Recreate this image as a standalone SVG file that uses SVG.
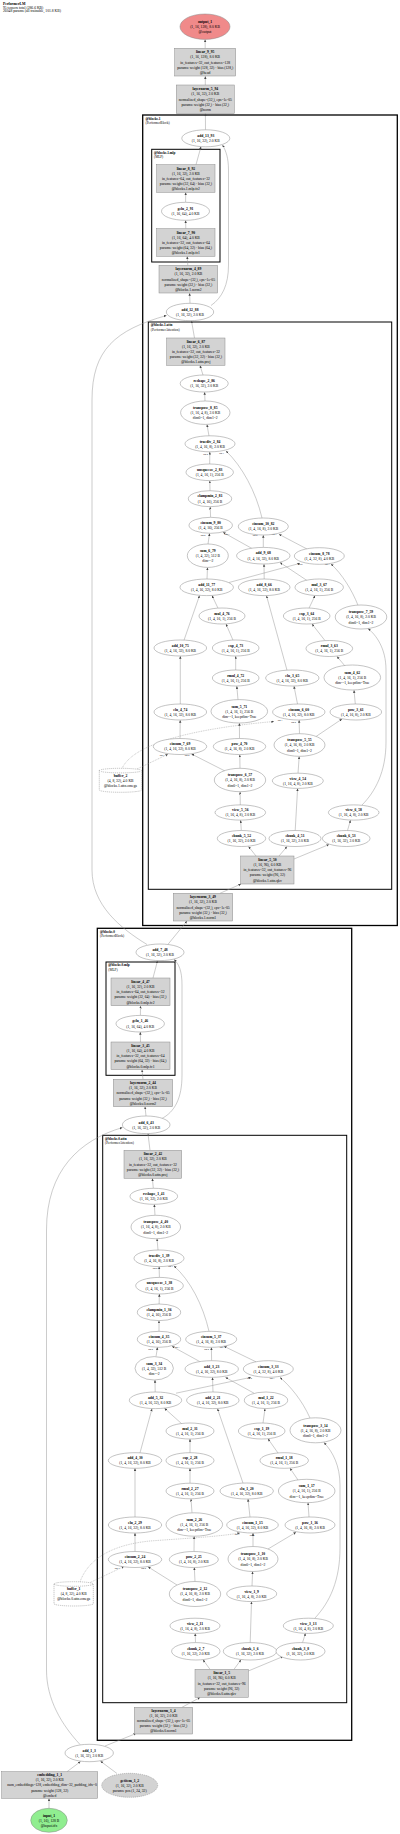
<svg xmlns="http://www.w3.org/2000/svg" width="400" height="1834" viewBox="0 0 400 1834">
<style>
text{font-family:"Liberation Serif","Times New Roman",serif;font-size:3.7px;fill:#000}
.c{text-anchor:middle}
.b{font-weight:bold}
.cl{fill:none;stroke:#000;stroke-width:1}
.clt{font-size:3.4px}
.el{fill:#fff;stroke:#888;stroke-width:0.5}
.bx{fill:#d3d3d3;stroke:#8a8a8a;stroke-width:0.5}
.buf{fill:#fff;stroke:#888;stroke-width:0.5;stroke-dasharray:1.2 0.8}
.e{fill:none;stroke:#8c8c8c;stroke-width:0.45;marker-end:url(#ah)}
.d{stroke-dasharray:1 0.8}
.lb{font-size:2.3px;text-anchor:middle}
</style>
<defs>
<marker id="ah" markerUnits="userSpaceOnUse" markerWidth="3" markerHeight="3" refX="2.6" refY="1.2" orient="auto"><path d="M0,0 L2.6,1.2 L0,2.4 Z" fill="#444"/></marker>
</defs>
<rect width="400" height="1834" fill="#fff"/>
<g id="title">
<text x="3" y="4.6" class="b">PerformerLM</text>
<text x="3" y="8.6">95 tensors total (286.6 KB)</text>
<text x="3" y="12.4">26048 params (all trainable, 101.8 KB)</text>
</g>
<g id="clusters">
<rect class="cl" x="142.7" y="115" width="254.6" height="810.5" style="stroke-width:1.3"/>
<text x="145.5" y="119.5" class="b clt">@blocks.1</text><text x="145.5" y="123.8" class="clt">(PerformerBlock)</text>
<rect class="cl" x="151.7" y="149.3" width="68.3" height="112.7"/>
<text x="154" y="153.5" class="b clt">@blocks.1.mlp</text><text x="154" y="157.8" class="clt">(MLP)</text>
<rect class="cl" x="148.3" y="322" width="243.4" height="567.3"/>
<text x="150.8" y="326.2" class="b clt">@blocks.1.attn</text><text x="150.8" y="330.5" class="clt">(PerformerAttention)</text>
<rect class="cl" x="97.3" y="928.3" width="254.4" height="812" style="stroke-width:1.3"/>
<text x="100" y="932.5" class="b clt">@blocks.0</text><text x="100" y="936.8" class="clt">(PerformerBlock)</text>
<rect class="cl" x="106" y="962" width="69" height="113.3"/>
<text x="108.3" y="966.2" class="b clt">@blocks.0.mlp</text><text x="108.3" y="970.5" class="clt">(MLP)</text>
<rect class="cl" x="102.7" y="1135.3" width="244" height="567.4"/>
<text x="105" y="1139.5" class="b clt">@blocks.0.attn</text><text x="105" y="1143.8" class="clt">(PerformerAttention)</text>
</g>
<g id="edges">
<path class="e" d="M205.3,85 L205.3,76.3"/>
<path class="e" d="M205.2,48.3 L205.1,39.6"/>
<path class="e" d="M205.5,129.8 L205.4,113.6"/>
<path class="e" d="M196,164.7 L201,146.6"/>
<path class="e" d="M185.6,202.3 L185.7,192.5"/>
<path class="e" d="M185.8,228.7 L185.6,220.4"/>
<path class="e" d="M187.8,265.3 L187.2,256.5"/>
<path class="e" d="M190,303.3 L189.6,293.2"/>
<path class="e" d="M211,305.5 C222,298 228.5,285 228.5,265 L228.5,170 C228.5,158 226,151 222.5,145"/>
<path class="e" d="M194.5,338 L191.5,320.8"/>
<path class="e" d="M203,375 L200,365.5"/>
<path class="e" d="M205,401 L204.6,392.2"/>
<path class="e" d="M209,436 L207,424.6"/>
<path class="e" d="M209.7,464 L209.8,452"/>
<path class="e" d="M262,518 C256,492 242,466 226,451"/>
<path class="e" d="M210,490.7 L209.8,480.8"/>
<path class="e" d="M210.6,517.3 L210.2,506.9"/>
<path class="e" d="M208,544 L209.6,533.4"/>
<path class="e" d="M252,548.5 L223,532.3"/>
<path class="e" d="M263.3,547.4 L263.3,535.2"/>
<path class="e" d="M307,549 L279,534.3"/>
<path class="e" d="M207,579 L207.5,567.6"/>
<path class="e" d="M229,582.5 L300,563.3"/>
<path class="e" d="M358,605.3 C352,590 342,574 331,564"/>
<path class="e" d="M264.2,579 L264,564.2"/>
<path class="e" d="M307,580.5 L280,562.5"/>
<path class="e" d="M218,608.2 L212,595.6"/>
<path class="e" d="M184,640.2 L199.5,595.6"/>
<path class="e" d="M233,640.2 L226,624"/>
<path class="e" d="M309,608.2 L315,595.6"/>
<path class="e" d="M287,670.2 L266.5,595.7"/>
<path class="e" d="M325,640.6 L312,624"/>
<path class="e" d="M345,666 L337,656.5"/>
<path class="e" d="M355.3,704 L354,690.2"/>
<path class="e" d="M297.5,704 L294,686.2"/>
<path class="e" d="M299.5,733.7 L299.1,720.2"/>
<path class="e" d="M316,736.5 L342,719"/>
<path class="e d" d="M122,768.5 C134,742 200,728 274,721.5"/>
<path class="e" d="M235.7,670 L235.7,656.2"/>
<path class="e" d="M238,699.8 L236.8,686.2"/>
<path class="e" d="M239.5,738.5 L239.4,723.2"/>
<path class="e" d="M180.3,704 L180.3,656.2"/>
<path class="e" d="M180,738.5 L180.2,720.2"/>
<path class="e" d="M240,768.3 L239.8,754.7"/>
<path class="e" d="M225,771 L191.5,754"/>
<path class="e d" d="M137,769 L168,754.2"/>
<path class="e" d="M240.3,805 L240.1,791.9"/>
<path class="e" d="M298,773.3 L299.2,756.5"/>
<path class="e" d="M295.2,830.5 L297.6,788.5"/>
<path class="e" d="M362,805 C375,792 386,772 386,742 L386,670 C386,648 376,635 368,628.5"/>
<path class="e" d="M241.3,830.5 L240.6,820.2"/>
<path class="e" d="M347.5,830.5 L350.5,820.2"/>
<path class="e" d="M256,856 L248.5,846.5"/>
<path class="e" d="M279,856 L287,846.6"/>
<path class="e" d="M294,859 L329,844.5"/>
<path class="e" d="M220,893.3 L241,884"/>
<path class="e" d="M168,944.3 L187,921"/>
<path class="e" d="M147,944.5 C120,928 92,905 92,870 L92,400 C92,350 115,330 166.5,315.5"/>
<path class="e" d="M153,978 L157.5,960.8"/>
<path class="e" d="M140.4,1015.4 L140.5,1005.9"/>
<path class="e" d="M140.5,1042 L140.3,1032.1"/>
<path class="e" d="M143,1079.3 L142,1069.8"/>
<path class="e" d="M146,1116 L145,1106.8"/>
<path class="e" d="M161,1119 C175,1112 182,1098 182,1075 L182,985 C182,971 179,964 174,959.5"/>
<path class="e" d="M150,1150.3 L148,1133.8"/>
<path class="e" d="M153.3,1188.3 L152.4,1178.4"/>
<path class="e" d="M155,1215.3 L154.3,1204.4"/>
<path class="e" d="M158,1250 L157,1238.8"/>
<path class="e" d="M159.4,1277.4 L159.1,1266.7"/>
<path class="e" d="M209,1331.3 C203,1305 190,1280 174,1266"/>
<path class="e" d="M159.1,1304 L159.4,1294.1"/>
<path class="e" d="M159,1331.3 L159,1320.7"/>
<path class="e" d="M156,1356.6 L157.5,1347.3"/>
<path class="e" d="M200,1361.7 L172,1346.3"/>
<path class="e" d="M211.6,1360.7 L211.4,1347.4"/>
<path class="e" d="M256,1361.8 L224,1346.3"/>
<path class="e" d="M155.2,1392 L155,1380.1"/>
<path class="e" d="M176,1393.2 L251,1377.3"/>
<path class="e" d="M310,1418 C302,1400 290,1386 280,1377.4"/>
<path class="e" d="M213,1392 L212.5,1377.4"/>
<path class="e" d="M254,1393.2 L225.5,1377.4"/>
<path class="e" d="M140,1452.8 L152,1408.7"/>
<path class="e" d="M182,1424 L164.5,1408.3"/>
<path class="e" d="M263,1423 L265,1408.7"/>
<path class="e" d="M190,1452.8 L190,1439.1"/>
<path class="e" d="M278,1453 L268,1438.8"/>
<path class="e" d="M190,1483.2 L190,1468.3"/>
<path class="e" d="M243,1483.1 L217.5,1408.7"/>
<path class="e" d="M298,1480 L290,1468.2"/>
<path class="e" d="M135,1517 L135,1468.3"/>
<path class="e" d="M192,1512.8 L191,1498.9"/>
<path class="e" d="M250,1517 L248,1499.1"/>
<path class="e" d="M309,1517 L308,1502.8"/>
<path class="e" d="M135,1551.5 L135,1533.1"/>
<path class="e" d="M194,1551.5 L194.2,1536.3"/>
<path class="e" d="M253,1546.5 L253,1533.1"/>
<path class="e" d="M268,1549 L296,1532.3"/>
<path class="e d" d="M80,1581.8 C88,1560 110,1545 150,1541 C190,1538 215,1537 240,1533"/>
<path class="e d" d="M88,1583.5 L124,1566.5"/>
<path class="e" d="M177,1585 L148,1566.8"/>
<path class="e" d="M195,1581.5 L194.3,1567.6"/>
<path class="e" d="M252,1586 L252.6,1571.6"/>
<path class="e" d="M315,1618 C330,1602 340,1580 340,1548 L340,1485 C340,1466 333,1452 324,1442.6"/>
<path class="e" d="M195.5,1642.6 L195.2,1633.4"/>
<path class="e" d="M250.2,1642.6 L251.5,1601.7"/>
<path class="e" d="M302.5,1642.6 L305.5,1633.3"/>
<path class="e" d="M210,1669.3 L203,1659.8"/>
<path class="e" d="M234,1669.3 L241,1659.8"/>
<path class="e" d="M248.3,1671 L283,1656.5"/>
<path class="e" d="M182,1707.3 L200,1697.5"/>
<path class="e" d="M105,1746 L136,1733.5"/>
<path class="e" d="M80,1744.5 C62,1725 46.5,1700 46.5,1670 L46.5,1230 C46.5,1170 80,1140 122.5,1127.5"/>
<path class="e" d="M67,1771.7 L80.5,1761.6"/>
<path class="e" d="M117,1773.5 L100.5,1761.2"/>
<path class="e" d="M49,1808.3 L49,1798.5"/>
</g>
<g id="edge-labels">
<text class="lb" x="205.5" y="454.5">arg 0</text><text class="lb" x="221.5" y="453.5">arg 1</text>
<text class="lb" x="203" y="535.8">arg 0</text><text class="lb" x="227" y="535">arg 1</text>
<text class="lb" x="255" y="536.2">arg 0</text><text class="lb" x="274" y="535">arg 1</text>
<text class="lb" x="300" y="565.2">arg 0</text><text class="lb" x="327" y="565.2">arg 1</text>
<text class="lb" x="280" y="721.2">arg 1</text><text class="lb" x="293.5" y="722.8">arg 0</text>
<text class="lb" x="162" y="756.2">arg 1</text><text class="lb" x="187" y="756.2">arg 0</text>
<text class="lb" x="155" y="1268.5">arg 0</text><text class="lb" x="170.5" y="1266.5">arg 1</text>
<text class="lb" x="150.5" y="1349.8">arg 0</text><text class="lb" x="177" y="1347.5">arg 1</text>
<text class="lb" x="206.5" y="1349.8">arg 0</text><text class="lb" x="222" y="1348">arg 1</text>
<text class="lb" x="249.5" y="1378.8">arg 0</text><text class="lb" x="272" y="1378.8">arg 1</text>
<text class="lb" x="237" y="1535">arg 1</text><text class="lb" x="252" y="1535.8">arg 0</text>
<text class="lb" x="117" y="1569">arg 1</text><text class="lb" x="143.5" y="1569">arg 0</text>
</g>
<g id="output_1"><ellipse cx="205" cy="26.7" rx="25" ry="12.7" fill="#f08a8a" stroke="#888" stroke-width="0.5"/><text class="c b" x="205" y="22.9">output_1</text><text class="c" x="205" y="28">(1, 16, 128), 8.0 KB</text><text class="c" x="205" y="33.2">@output</text></g>
<g id="linear_9_95"><rect class="bx" x="174.7" y="48.3" width="61" height="27.7"/><text class="c b" x="205.2" y="53.2">linear_9_95</text><text class="c" x="205.2" y="58.3">(1, 16, 128), 8.0 KB</text><text class="c" x="205.2" y="63.5">in_features=32, out_features=128</text><text class="c" x="205.2" y="68.6">params: weight (128, 32) · bias (128,)</text><text class="c" x="205.2" y="73.8">@head</text></g>
<g id="layernorm_5_94"><rect class="bx" x="176.3" y="85" width="58" height="28.3"/><text class="c b" x="205.3" y="90.2">layernorm_5_94</text><text class="c" x="205.3" y="95.3">(1, 16, 32), 2.0 KB</text><text class="c" x="205.3" y="100.5">normalized_shape=(32,), eps=1e-05</text><text class="c" x="205.3" y="105.6">params: weight (32,) · bias (32,)</text><text class="c" x="205.3" y="110.8">@norm</text></g>
<g id="add_13_93"><ellipse class="el" cx="205.8" cy="138.3" rx="24" ry="8.5"/><text class="c b" x="205.8" y="137">add_13_93</text><text class="c" x="205.8" y="142.2">(1, 16, 32), 2.0 KB</text></g>
<g id="linear_8_92"><rect class="bx" x="156.7" y="164.7" width="58.3" height="27.6"/><text class="c b" x="185.9" y="169.5">linear_8_92</text><text class="c" x="185.9" y="174.6">(1, 16, 32), 2.0 KB</text><text class="c" x="185.9" y="179.8">in_features=64, out_features=32</text><text class="c" x="185.9" y="184.9">params: weight (32, 64) · bias (32,)</text><text class="c" x="185.9" y="190.1">@blocks.1.mlp.fc2</text></g>
<g id="gelu_2_91"><ellipse class="el" cx="185.5" cy="211.3" rx="24" ry="9"/><text class="c b" x="185.5" y="210">gelu_2_91</text><text class="c" x="185.5" y="215.2">(1, 16, 64), 4.0 KB</text></g>
<g id="linear_7_90"><rect class="bx" x="156.7" y="228.7" width="58.3" height="27.6"/><text class="c b" x="185.9" y="233.5">linear_7_90</text><text class="c" x="185.9" y="238.6">(1, 16, 64), 4.0 KB</text><text class="c" x="185.9" y="243.8">in_features=32, out_features=64</text><text class="c" x="185.9" y="248.9">params: weight (64, 32) · bias (64,)</text><text class="c" x="185.9" y="254.1">@blocks.1.mlp.fc1</text></g>
<g id="layernorm_4_89"><rect class="bx" x="159" y="265.3" width="58.7" height="27.7"/><text class="c b" x="188.4" y="270.2">layernorm_4_89</text><text class="c" x="188.4" y="275.3">(1, 16, 32), 2.0 KB</text><text class="c" x="188.4" y="280.5">normalized_shape=(32,), eps=1e-05</text><text class="c" x="188.4" y="285.6">params: weight (32,) · bias (32,)</text><text class="c" x="188.4" y="290.8">@blocks.1.norm2</text></g>
<g id="add_12_88"><ellipse class="el" cx="190" cy="312" rx="23.7" ry="8.7"/><text class="c b" x="190" y="310.7">add_12_88</text><text class="c" x="190" y="315.9">(1, 16, 32), 2.0 KB</text></g>
<g id="linear_6_87"><rect class="bx" x="166.7" y="338" width="58.3" height="27.3"/><text class="c b" x="195.9" y="342.7">linear_6_87</text><text class="c" x="195.9" y="347.8">(1, 16, 32), 2.0 KB</text><text class="c" x="195.9" y="353">in_features=32, out_features=32</text><text class="c" x="195.9" y="358.1">params: weight (32, 32) · bias (32,)</text><text class="c" x="195.9" y="363.3">@blocks.1.attn.proj</text></g>
<g id="reshape_2_86"><ellipse class="el" cx="204.2" cy="383.5" rx="24" ry="8.5"/><text class="c b" x="204.2" y="382.2">reshape_2_86</text><text class="c" x="204.2" y="387.4">(1, 16, 32), 2.0 KB</text></g>
<g id="transpose_8_85"><ellipse class="el" cx="205.3" cy="412.7" rx="24.7" ry="11.7"/><text class="c b" x="205.3" y="408.9">transpose_8_85</text><text class="c" x="205.3" y="414">(1, 16, 4, 8), 2.0 KB</text><text class="c" x="205.3" y="419.2">dim0=1, dim1=2</text></g>
<g id="truediv_2_84"><ellipse class="el" cx="210" cy="443.8" rx="25" ry="8"/><text class="c b" x="210" y="442.5">truediv_2_84</text><text class="c" x="210" y="447.7">(1, 4, 16, 8), 2.0 KB</text></g>
<g id="unsqueeze_2_83"><ellipse class="el" cx="209.7" cy="472.3" rx="23.7" ry="8.3"/><text class="c b" x="209.7" y="471">unsqueeze_2_83</text><text class="c" x="209.7" y="476.2">(1, 4, 16, 1), 256 B</text></g>
<g id="clampmin_2_81"><ellipse class="el" cx="210" cy="498.7" rx="21.7" ry="8"/><text class="c b" x="210" y="497.4">clampmin_2_81</text><text class="c" x="210" y="502.6">(1, 4, 16), 256 B</text></g>
<g id="einsum_9_80"><ellipse class="el" cx="210.7" cy="525.3" rx="21.7" ry="8"/><text class="c b" x="210.7" y="524">einsum_9_80</text><text class="c" x="210.7" y="529.2">(1, 4, 16), 256 B</text></g>
<g id="einsum_10_82"><ellipse class="el" cx="263.3" cy="526.5" rx="25" ry="8.5"/><text class="c b" x="263.3" y="525.2">einsum_10_82</text><text class="c" x="263.3" y="530.4">(1, 4, 16, 8), 2.0 KB</text></g>
<g id="sum_6_79"><ellipse class="el" cx="207.8" cy="555.7" rx="20.5" ry="11.7"/><text class="c b" x="207.8" y="551.9">sum_6_79</text><text class="c" x="207.8" y="557">(1, 4, 32), 512 B</text><text class="c" x="207.8" y="562.2">dim=-2</text></g>
<g id="add_9_68"><ellipse class="el" cx="263.3" cy="555.7" rx="26.7" ry="8.3"/><text class="c b" x="263.3" y="554.4">add_9_68</text><text class="c" x="263.3" y="559.6">(1, 4, 16, 32), 8.0 KB</text></g>
<g id="einsum_8_78"><ellipse class="el" cx="319.3" cy="556" rx="25" ry="8.3"/><text class="c b" x="319.3" y="554.7">einsum_8_78</text><text class="c" x="319.3" y="559.9">(1, 4, 32, 8), 4.0 KB</text></g>
<g id="add_11_77"><ellipse class="el" cx="206.7" cy="587.3" rx="26.7" ry="8.3"/><text class="c b" x="206.7" y="586">add_11_77</text><text class="c" x="206.7" y="591.2">(1, 4, 16, 32), 8.0 KB</text></g>
<g id="add_8_66"><ellipse class="el" cx="264.2" cy="587.3" rx="25.8" ry="8.3"/><text class="c b" x="264.2" y="586">add_8_66</text><text class="c" x="264.2" y="591.2">(1, 4, 16, 32), 8.0 KB</text></g>
<g id="mul_3_67"><ellipse class="el" cx="319.2" cy="587.3" rx="24.2" ry="8.3"/><text class="c b" x="319.2" y="586">mul_3_67</text><text class="c" x="319.2" y="591.2">(1, 4, 16, 1), 256 B</text></g>
<g id="mul_4_76"><ellipse class="el" cx="222" cy="616" rx="23" ry="8"/><text class="c b" x="222" y="614.7">mul_4_76</text><text class="c" x="222" y="619.9">(1, 4, 16, 1), 256 B</text></g>
<g id="exp_3_64"><ellipse class="el" cx="306.7" cy="616" rx="23.3" ry="8"/><text class="c b" x="306.7" y="614.7">exp_3_64</text><text class="c" x="306.7" y="619.9">(1, 4, 16, 1), 256 B</text></g>
<g id="transpose_7_59"><ellipse class="el" cx="361" cy="617" rx="25.8" ry="12"/><text class="c b" x="361" y="613.2">transpose_7_59</text><text class="c" x="361" y="618.3">(1, 4, 16, 8), 2.0 KB</text><text class="c" x="361" y="623.5">dim0=1, dim1=2</text></g>
<g id="add_10_75"><ellipse class="el" cx="180.3" cy="648" rx="26.3" ry="8"/><text class="c b" x="180.3" y="646.7">add_10_75</text><text class="c" x="180.3" y="651.9">(1, 4, 16, 32), 8.0 KB</text></g>
<g id="exp_4_73"><ellipse class="el" cx="235.7" cy="648" rx="23.3" ry="8"/><text class="c b" x="235.7" y="646.7">exp_4_73</text><text class="c" x="235.7" y="651.9">(1, 4, 16, 1), 256 B</text></g>
<g id="rmul_3_63"><ellipse class="el" cx="329.3" cy="648.5" rx="23.3" ry="8"/><text class="c b" x="329.3" y="647.2">rmul_3_63</text><text class="c" x="329.3" y="652.4">(1, 4, 16, 1), 256 B</text></g>
<g id="rmul_4_72"><ellipse class="el" cx="235.7" cy="678" rx="23.3" ry="8"/><text class="c b" x="235.7" y="676.7">rmul_4_72</text><text class="c" x="235.7" y="681.9">(1, 4, 16, 1), 256 B</text></g>
<g id="elu_3_65"><ellipse class="el" cx="292.3" cy="678" rx="26.7" ry="8"/><text class="c b" x="292.3" y="676.7">elu_3_65</text><text class="c" x="292.3" y="681.9">(1, 4, 16, 32), 8.0 KB</text></g>
<g id="sum_4_62"><ellipse class="el" cx="352.3" cy="677.5" rx="28.3" ry="12.5"/><text class="c b" x="352.3" y="673.7">sum_4_62</text><text class="c" x="352.3" y="678.8">(1, 4, 16, 1), 256 B</text><text class="c" x="352.3" y="684">dim=-1, keepdim=True</text></g>
<g id="elu_4_74"><ellipse class="el" cx="180.3" cy="712" rx="26.3" ry="8"/><text class="c b" x="180.3" y="710.7">elu_4_74</text><text class="c" x="180.3" y="715.9">(1, 4, 16, 32), 8.0 KB</text></g>
<g id="sum_5_71"><ellipse class="el" cx="239.3" cy="711.3" rx="28.3" ry="11.7"/><text class="c b" x="239.3" y="707.5">sum_5_71</text><text class="c" x="239.3" y="712.6">(1, 4, 16, 1), 256 B</text><text class="c" x="239.3" y="717.8">dim=-1, keepdim=True</text></g>
<g id="einsum_6_60"><ellipse class="el" cx="298.8" cy="712" rx="26.2" ry="8"/><text class="c b" x="298.8" y="710.7">einsum_6_60</text><text class="c" x="298.8" y="715.9">(1, 4, 16, 32), 8.0 KB</text></g>
<g id="pow_3_61"><ellipse class="el" cx="355.8" cy="712" rx="25.8" ry="8"/><text class="c b" x="355.8" y="710.7">pow_3_61</text><text class="c" x="355.8" y="715.9">(1, 4, 16, 8), 2.0 KB</text></g>
<g id="einsum_7_69"><ellipse class="el" cx="180" cy="746.5" rx="26.7" ry="8"/><text class="c b" x="180" y="745.2">einsum_7_69</text><text class="c" x="180" y="750.4">(1, 4, 16, 32), 8.0 KB</text></g>
<g id="pow_4_70"><ellipse class="el" cx="239.5" cy="746.5" rx="26.2" ry="8"/><text class="c b" x="239.5" y="745.2">pow_4_70</text><text class="c" x="239.5" y="750.4">(1, 4, 16, 8), 2.0 KB</text></g>
<g id="transpose_5_55"><ellipse class="el" cx="299.5" cy="745" rx="25.5" ry="11.3"/><text class="c b" x="299.5" y="741.2">transpose_5_55</text><text class="c" x="299.5" y="746.3">(1, 4, 16, 8), 2.0 KB</text><text class="c" x="299.5" y="751.5">dim0=1, dim1=2</text></g>
<g id="buffer_2"><path class="buf" d="M99.3,770.6 A21.2,2.3 0 0 1 141.7,770.6 L141.7,790 A21.2,2.3 0 0 1 99.3,790 Z M99.3,770.6 A21.2,2.3 0 0 0 141.7,770.6"/><text class="c b" x="120.5" y="776.5">buffer_2</text><text class="c" x="120.5" y="781.6">(4, 8, 32), 4.0 KB</text><text class="c" x="120.5" y="786.8">@blocks.1.attn.omega</text></g>
<g id="transpose_6_57"><ellipse class="el" cx="240" cy="780" rx="25.7" ry="11.7"/><text class="c b" x="240" y="776.2">transpose_6_57</text><text class="c" x="240" y="781.3">(1, 4, 16, 8), 2.0 KB</text><text class="c" x="240" y="786.5">dim0=1, dim1=2</text></g>
<g id="view_4_54"><ellipse class="el" cx="297.8" cy="780.8" rx="25.5" ry="7.6"/><text class="c b" x="297.8" y="779.5">view_4_54</text><text class="c" x="297.8" y="784.7">(1, 16, 4, 8), 2.0 KB</text></g>
<g id="view_5_56"><ellipse class="el" cx="240.3" cy="812.5" rx="25.3" ry="7.6"/><text class="c b" x="240.3" y="811.2">view_5_56</text><text class="c" x="240.3" y="816.4">(1, 16, 4, 8), 2.0 KB</text></g>
<g id="view_6_58"><ellipse class="el" cx="353.7" cy="812.5" rx="25.3" ry="7.6"/><text class="c b" x="353.7" y="811.2">view_6_58</text><text class="c" x="353.7" y="816.4">(1, 16, 4, 8), 2.0 KB</text></g>
<g id="chunk_5_52"><ellipse class="el" cx="241.5" cy="838.5" rx="24.2" ry="8"/><text class="c b" x="241.5" y="837.2">chunk_5_52</text><text class="c" x="241.5" y="842.4">(1, 16, 32), 2.0 KB</text></g>
<g id="chunk_4_51"><ellipse class="el" cx="295" cy="838.5" rx="26" ry="8"/><text class="c b" x="295" y="837.2">chunk_4_51</text><text class="c" x="295" y="842.4">(1, 16, 32), 2.0 KB</text></g>
<g id="chunk_6_53"><ellipse class="el" cx="346.2" cy="838.5" rx="23.8" ry="8"/><text class="c b" x="346.2" y="837.2">chunk_6_53</text><text class="c" x="346.2" y="842.4">(1, 16, 32), 2.0 KB</text></g>
<g id="linear_5_50"><rect class="bx" x="240.7" y="856" width="53.3" height="28"/><text class="c b" x="267.4" y="861">linear_5_50</text><text class="c" x="267.4" y="866.1">(1, 16, 96), 6.0 KB</text><text class="c" x="267.4" y="871.3">in_features=32, out_features=96</text><text class="c" x="267.4" y="876.4">params: weight (96, 32)</text><text class="c" x="267.4" y="881.6">@blocks.1.attn.qkv</text></g>
<g id="layernorm_3_49"><rect class="bx" x="173.3" y="893.3" width="59.4" height="27.7"/><text class="c b" x="203" y="898.2">layernorm_3_49</text><text class="c" x="203" y="903.3">(1, 16, 32), 2.0 KB</text><text class="c" x="203" y="908.5">normalized_shape=(32,), eps=1e-05</text><text class="c" x="203" y="913.6">params: weight (32,) · bias (32,)</text><text class="c" x="203" y="918.8">@blocks.1.norm1</text></g>
<g id="add_7_48"><ellipse class="el" cx="160" cy="952.3" rx="24" ry="8.3"/><text class="c b" x="160" y="951">add_7_48</text><text class="c" x="160" y="956.2">(1, 16, 32), 2.0 KB</text></g>
<g id="linear_4_47"><rect class="bx" x="111" y="978" width="59" height="27.7"/><text class="c b" x="140.5" y="982.9">linear_4_47</text><text class="c" x="140.5" y="988">(1, 16, 32), 2.0 KB</text><text class="c" x="140.5" y="993.2">in_features=64, out_features=32</text><text class="c" x="140.5" y="998.3">params: weight (32, 64) · bias (32,)</text><text class="c" x="140.5" y="1003.5">@blocks.0.mlp.fc2</text></g>
<g id="gelu_1_46"><ellipse class="el" cx="140.2" cy="1023.7" rx="24.2" ry="8.3"/><text class="c b" x="140.2" y="1022.4">gelu_1_46</text><text class="c" x="140.2" y="1027.6">(1, 16, 64), 4.0 KB</text></g>
<g id="linear_3_45"><rect class="bx" x="111" y="1042" width="59" height="27.7"/><text class="c b" x="140.5" y="1046.9">linear_3_45</text><text class="c" x="140.5" y="1052">(1, 16, 64), 4.0 KB</text><text class="c" x="140.5" y="1057.2">in_features=32, out_features=64</text><text class="c" x="140.5" y="1062.3">params: weight (64, 32) · bias (64,)</text><text class="c" x="140.5" y="1067.5">@blocks.0.mlp.fc1</text></g>
<g id="layernorm_2_44"><rect class="bx" x="113.3" y="1079.3" width="59.4" height="27.4"/><text class="c b" x="143" y="1084">layernorm_2_44</text><text class="c" x="143" y="1089.2">(1, 16, 32), 2.0 KB</text><text class="c" x="143" y="1094.3">normalized_shape=(32,), eps=1e-05</text><text class="c" x="143" y="1099.5">params: weight (32,) · bias (32,)</text><text class="c" x="143" y="1104.6">@blocks.0.norm2</text></g>
<g id="add_6_43"><ellipse class="el" cx="146.2" cy="1124.8" rx="23.8" ry="8.8"/><text class="c b" x="146.2" y="1123.5">add_6_43</text><text class="c" x="146.2" y="1128.7">(1, 16, 32), 2.0 KB</text></g>
<g id="linear_2_42"><rect class="bx" x="124" y="1150.3" width="57.7" height="28"/><text class="c b" x="152.9" y="1155.3">linear_2_42</text><text class="c" x="152.9" y="1160.4">(1, 16, 32), 2.0 KB</text><text class="c" x="152.9" y="1165.6">in_features=32, out_features=32</text><text class="c" x="152.9" y="1170.7">params: weight (32, 32) · bias (32,)</text><text class="c" x="152.9" y="1175.9">@blocks.0.attn.proj</text></g>
<g id="reshape_1_41"><ellipse class="el" cx="153.8" cy="1196.3" rx="23.8" ry="8"/><text class="c b" x="153.8" y="1195">reshape_1_41</text><text class="c" x="153.8" y="1200.2">(1, 16, 32), 2.0 KB</text></g>
<g id="transpose_4_40"><ellipse class="el" cx="155.8" cy="1227" rx="24.8" ry="11.7"/><text class="c b" x="155.8" y="1223.2">transpose_4_40</text><text class="c" x="155.8" y="1228.3">(1, 16, 4, 8), 2.0 KB</text><text class="c" x="155.8" y="1233.5">dim0=1, dim1=2</text></g>
<g id="truediv_1_39"><ellipse class="el" cx="159" cy="1258.3" rx="25" ry="8.3"/><text class="c b" x="159" y="1257">truediv_1_39</text><text class="c" x="159" y="1262.2">(1, 4, 16, 8), 2.0 KB</text></g>
<g id="unsqueeze_1_38"><ellipse class="el" cx="159.5" cy="1285.7" rx="23.8" ry="8.3"/><text class="c b" x="159.5" y="1284.4">unsqueeze_1_38</text><text class="c" x="159.5" y="1289.6">(1, 4, 16, 1), 256 B</text></g>
<g id="clampmin_1_36"><ellipse class="el" cx="159" cy="1312.3" rx="21.7" ry="8.3"/><text class="c b" x="159" y="1311">clampmin_1_36</text><text class="c" x="159" y="1316.2">(1, 4, 16), 256 B</text></g>
<g id="einsum_4_35"><ellipse class="el" cx="159" cy="1339.3" rx="21.7" ry="8"/><text class="c b" x="159" y="1338">einsum_4_35</text><text class="c" x="159" y="1343.2">(1, 4, 16), 256 B</text></g>
<g id="einsum_5_37"><ellipse class="el" cx="211.2" cy="1339.3" rx="25.5" ry="8"/><text class="c b" x="211.2" y="1338">einsum_5_37</text><text class="c" x="211.2" y="1343.2">(1, 4, 16, 8), 2.0 KB</text></g>
<g id="sum_3_34"><ellipse class="el" cx="154.2" cy="1368.3" rx="19.2" ry="11.7"/><text class="c b" x="154.2" y="1364.5">sum_3_34</text><text class="c" x="154.2" y="1369.6">(1, 4, 32), 512 B</text><text class="c" x="154.2" y="1374.8">dim=-2</text></g>
<g id="add_3_23"><ellipse class="el" cx="211.7" cy="1369" rx="26.7" ry="8.3"/><text class="c b" x="211.7" y="1367.7">add_3_23</text><text class="c" x="211.7" y="1372.9">(1, 4, 16, 32), 8.0 KB</text></g>
<g id="einsum_3_33"><ellipse class="el" cx="268.3" cy="1369" rx="25" ry="8.3"/><text class="c b" x="268.3" y="1367.7">einsum_3_33</text><text class="c" x="268.3" y="1372.9">(1, 4, 32, 8), 4.0 KB</text></g>
<g id="add_5_32"><ellipse class="el" cx="155.5" cy="1400.3" rx="26.2" ry="8.3"/><text class="c b" x="155.5" y="1399">add_5_32</text><text class="c" x="155.5" y="1404.2">(1, 4, 16, 32), 8.0 KB</text></g>
<g id="add_2_21"><ellipse class="el" cx="212.8" cy="1400.3" rx="26.2" ry="8.3"/><text class="c b" x="212.8" y="1399">add_2_21</text><text class="c" x="212.8" y="1404.2">(1, 4, 16, 32), 8.0 KB</text></g>
<g id="mul_1_22"><ellipse class="el" cx="266" cy="1400.3" rx="21.7" ry="8.3"/><text class="c b" x="266" y="1399">mul_1_22</text><text class="c" x="266" y="1404.2">(1, 4, 16, 1), 256 B</text></g>
<g id="mul_2_31"><ellipse class="el" cx="190" cy="1431" rx="24" ry="8"/><text class="c b" x="190" y="1429.7">mul_2_31</text><text class="c" x="190" y="1434.9">(1, 4, 16, 1), 256 B</text></g>
<g id="exp_1_19"><ellipse class="el" cx="261.7" cy="1431" rx="23.3" ry="8"/><text class="c b" x="261.7" y="1429.7">exp_1_19</text><text class="c" x="261.7" y="1434.9">(1, 4, 16, 1), 256 B</text></g>
<g id="transpose_3_14"><ellipse class="el" cx="315.5" cy="1430.3" rx="25.5" ry="12.5"/><text class="c b" x="315.5" y="1426.5">transpose_3_14</text><text class="c" x="315.5" y="1431.6">(1, 4, 16, 8), 2.0 KB</text><text class="c" x="315.5" y="1436.8">dim0=1, dim1=2</text></g>
<g id="add_4_30"><ellipse class="el" cx="135" cy="1460.5" rx="26.7" ry="7.8"/><text class="c b" x="135" y="1459.2">add_4_30</text><text class="c" x="135" y="1464.4">(1, 4, 16, 32), 8.0 KB</text></g>
<g id="exp_2_28"><ellipse class="el" cx="190" cy="1460.5" rx="24" ry="7.8"/><text class="c b" x="190" y="1459.2">exp_2_28</text><text class="c" x="190" y="1464.4">(1, 4, 16, 1), 256 B</text></g>
<g id="rmul_1_18"><ellipse class="el" cx="284.2" cy="1460.5" rx="24.2" ry="7.8"/><text class="c b" x="284.2" y="1459.2">rmul_1_18</text><text class="c" x="284.2" y="1464.4">(1, 4, 16, 1), 256 B</text></g>
<g id="rmul_2_27"><ellipse class="el" cx="190" cy="1491" rx="24" ry="7.8"/><text class="c b" x="190" y="1489.7">rmul_2_27</text><text class="c" x="190" y="1494.9">(1, 4, 16, 1), 256 B</text></g>
<g id="elu_1_20"><ellipse class="el" cx="246.7" cy="1491" rx="26.7" ry="8"/><text class="c b" x="246.7" y="1489.7">elu_1_20</text><text class="c" x="246.7" y="1494.9">(1, 4, 16, 32), 8.0 KB</text></g>
<g id="sum_1_17"><ellipse class="el" cx="306.7" cy="1491" rx="28.3" ry="11.7"/><text class="c b" x="306.7" y="1487.2">sum_1_17</text><text class="c" x="306.7" y="1492.3">(1, 4, 16, 1), 256 B</text><text class="c" x="306.7" y="1497.5">dim=-1, keepdim=True</text></g>
<g id="elu_2_29"><ellipse class="el" cx="135" cy="1525" rx="26.7" ry="8"/><text class="c b" x="135" y="1523.7">elu_2_29</text><text class="c" x="135" y="1528.9">(1, 4, 16, 32), 8.0 KB</text></g>
<g id="sum_2_26"><ellipse class="el" cx="194.3" cy="1524.5" rx="28.3" ry="11.7"/><text class="c b" x="194.3" y="1520.7">sum_2_26</text><text class="c" x="194.3" y="1525.8">(1, 4, 16, 1), 256 B</text><text class="c" x="194.3" y="1531">dim=-1, keepdim=True</text></g>
<g id="einsum_1_15"><ellipse class="el" cx="252.5" cy="1525" rx="25.8" ry="8"/><text class="c b" x="252.5" y="1523.7">einsum_1_15</text><text class="c" x="252.5" y="1528.9">(1, 4, 16, 32), 8.0 KB</text></g>
<g id="pow_1_16"><ellipse class="el" cx="310" cy="1525" rx="25" ry="8"/><text class="c b" x="310" y="1523.7">pow_1_16</text><text class="c" x="310" y="1528.9">(1, 4, 16, 8), 2.0 KB</text></g>
<g id="einsum_2_24"><ellipse class="el" cx="135" cy="1559.5" rx="26.7" ry="8"/><text class="c b" x="135" y="1558.2">einsum_2_24</text><text class="c" x="135" y="1563.4">(1, 4, 16, 32), 8.0 KB</text></g>
<g id="pow_2_25"><ellipse class="el" cx="193.8" cy="1559.5" rx="24.5" ry="8"/><text class="c b" x="193.8" y="1558.2">pow_2_25</text><text class="c" x="193.8" y="1563.4">(1, 4, 16, 8), 2.0 KB</text></g>
<g id="transpose_1_10"><ellipse class="el" cx="253" cy="1559" rx="25" ry="12.5"/><text class="c b" x="253" y="1555.2">transpose_1_10</text><text class="c" x="253" y="1560.3">(1, 4, 16, 8), 2.0 KB</text><text class="c" x="253" y="1565.5">dim0=1, dim1=2</text></g>
<g id="buffer_1"><path class="buf" d="M54,1584 A19.65,2.3 0 0 1 93.3,1584 L93.3,1603.7 A19.65,2.3 0 0 1 54,1603.7 Z M54,1584 A19.65,2.3 0 0 0 93.3,1584"/><text class="c b" x="73.7" y="1590">buffer_1</text><text class="c" x="73.7" y="1595.1">(4, 8, 32), 4.0 KB</text><text class="c" x="73.7" y="1600.3">@blocks.0.attn.omega</text></g>
<g id="transpose_2_12"><ellipse class="el" cx="195" cy="1594" rx="25.7" ry="12.5"/><text class="c b" x="195" y="1590.2">transpose_2_12</text><text class="c" x="195" y="1595.3">(1, 4, 16, 8), 2.0 KB</text><text class="c" x="195" y="1600.5">dim0=1, dim1=2</text></g>
<g id="view_1_9"><ellipse class="el" cx="251.7" cy="1593.8" rx="25" ry="7.8"/><text class="c b" x="251.7" y="1592.5">view_1_9</text><text class="c" x="251.7" y="1597.7">(1, 16, 4, 8), 2.0 KB</text></g>
<g id="view_2_11"><ellipse class="el" cx="195" cy="1625.8" rx="25" ry="7.6"/><text class="c b" x="195" y="1624.5">view_2_11</text><text class="c" x="195" y="1629.7">(1, 16, 4, 8), 2.0 KB</text></g>
<g id="view_3_13"><ellipse class="el" cx="308.3" cy="1625.8" rx="25" ry="7.6"/><text class="c b" x="308.3" y="1624.5">view_3_13</text><text class="c" x="308.3" y="1629.7">(1, 16, 4, 8), 2.0 KB</text></g>
<g id="chunk_2_7"><ellipse class="el" cx="195.8" cy="1651.3" rx="24.2" ry="8.7"/><text class="c b" x="195.8" y="1650">chunk_2_7</text><text class="c" x="195.8" y="1655.2">(1, 16, 32), 2.0 KB</text></g>
<g id="chunk_1_6"><ellipse class="el" cx="250" cy="1651.3" rx="26.7" ry="8.7"/><text class="c b" x="250" y="1650">chunk_1_6</text><text class="c" x="250" y="1655.2">(1, 16, 32), 2.0 KB</text></g>
<g id="chunk_3_8"><ellipse class="el" cx="300.5" cy="1651.3" rx="24.5" ry="8.7"/><text class="c b" x="300.5" y="1650">chunk_3_8</text><text class="c" x="300.5" y="1655.2">(1, 16, 32), 2.0 KB</text></g>
<g id="linear_1_5"><rect class="bx" x="195" y="1669.3" width="53.3" height="28"/><text class="c b" x="221.7" y="1674.3">linear_1_5</text><text class="c" x="221.7" y="1679.4">(1, 16, 96), 6.0 KB</text><text class="c" x="221.7" y="1684.6">in_features=32, out_features=96</text><text class="c" x="221.7" y="1689.7">params: weight (96, 32)</text><text class="c" x="221.7" y="1694.9">@blocks.0.attn.qkv</text></g>
<g id="layernorm_1_4"><rect class="bx" x="134.3" y="1707.3" width="58.4" height="26.7"/><text class="c b" x="163.5" y="1711.7">layernorm_1_4</text><text class="c" x="163.5" y="1716.8">(1, 16, 32), 2.0 KB</text><text class="c" x="163.5" y="1722">normalized_shape=(32,), eps=1e-05</text><text class="c" x="163.5" y="1727.1">params: weight (32,) · bias (32,)</text><text class="c" x="163.5" y="1732.3">@blocks.0.norm1</text></g>
<g id="add_1_3"><ellipse class="el" cx="89.2" cy="1753" rx="24.2" ry="8.7"/><text class="c b" x="89.2" y="1751.7">add_1_3</text><text class="c" x="89.2" y="1756.9">(1, 16, 32), 2.0 KB</text></g>
<g id="embedding_1_1"><rect class="bx" x="1.7" y="1771.7" width="96" height="26.6"/><text class="c b" x="49.7" y="1776">embedding_1_1</text><text class="c" x="49.7" y="1781.2">(1, 16, 32), 2.0 KB</text><text class="c" x="52" y="1786.3">num_embeddings=128, embedding_dim=32, padding_idx=0</text><text class="c" x="49.7" y="1791.5">params: weight (128, 32)</text><text class="c" x="49.7" y="1796.6">@embed</text></g>
<g id="getitem_1_2"><ellipse cx="129.7" cy="1785.3" rx="28" ry="12" fill="#d3d3d3" stroke="#888" stroke-width="0.5" stroke-dasharray="1.2 0.8"/><text class="c b" x="129.7" y="1781.5">getitem_1_2</text><text class="c" x="129.7" y="1786.6">(1, 16, 32), 2.0 KB</text><text class="c" x="129.7" y="1791.8">params: pos (1, 24, 32)</text></g>
<g id="input_1"><ellipse cx="49" cy="1820.3" rx="18.3" ry="12" fill="#90ee90" stroke="#888" stroke-width="0.5"/><text class="c b" x="49" y="1816.5">input_1</text><text class="c" x="49" y="1821.6">(1, 16), 128 B</text><text class="c" x="49" y="1826.8">@input.idx</text></g>
</svg>
